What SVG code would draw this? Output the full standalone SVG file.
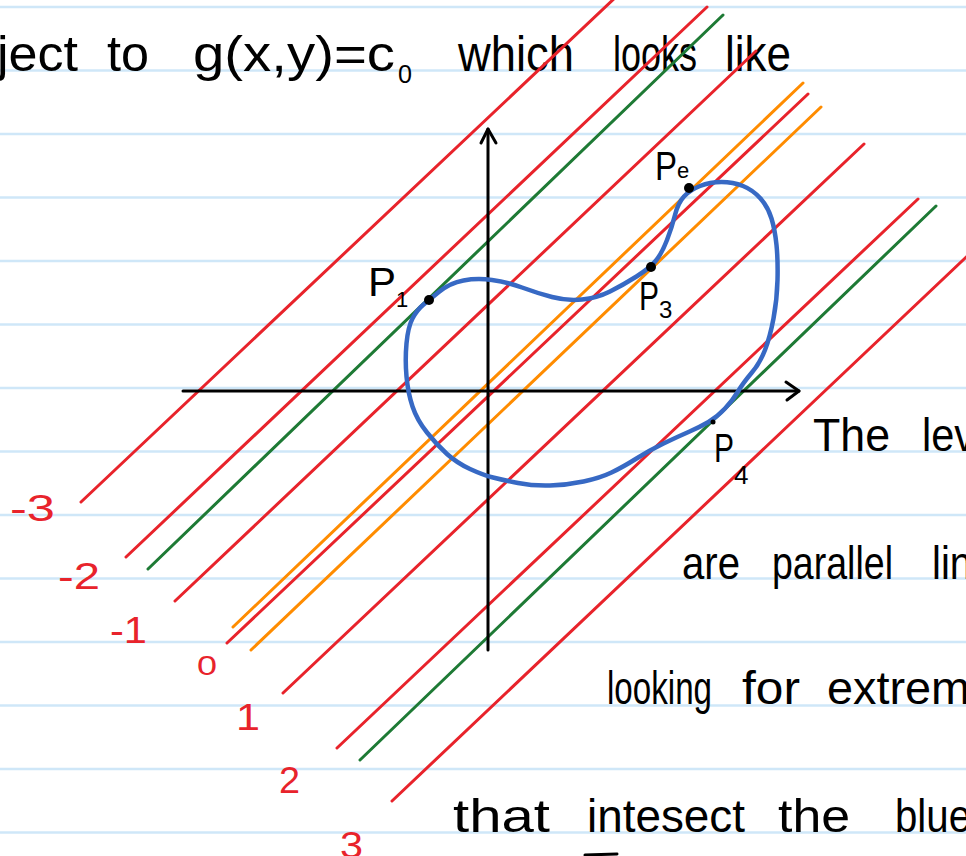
<svg xmlns="http://www.w3.org/2000/svg" width="966" height="856" viewBox="0 0 966 856">
<style>
.rule{stroke:#cfe7f8;stroke-width:2.5}
.red{stroke:#e8232b;stroke-width:3;stroke-linecap:round}
.grn{stroke:#1e7a35;stroke-width:3;stroke-linecap:round}
.org{stroke:#ff8c00;stroke-width:3;stroke-linecap:round}
.axis{stroke:#000;stroke-width:3;fill:none;stroke-linecap:round;stroke-linejoin:round}
.hand{font-family:"Liberation Sans","DejaVu Sans",sans-serif;fill:#000}
.num{font-family:"Liberation Sans","DejaVu Sans",sans-serif;fill:#e8232b;font-size:36px}
.lbl{font-family:"Liberation Sans","DejaVu Sans",sans-serif;fill:#000}
.dot{fill:#000}
</style>
<rect width="966" height="856" fill="#fff"/>
<g id="ruled-lines">
<line class="rule" x1="0" y1="7" x2="966" y2="7"/>
<line class="rule" x1="0" y1="70.5" x2="966" y2="70.5"/>
<line class="rule" x1="0" y1="134" x2="966" y2="134"/>
<line class="rule" x1="0" y1="197.5" x2="966" y2="197.5"/>
<line class="rule" x1="0" y1="261" x2="966" y2="261"/>
<line class="rule" x1="0" y1="324.5" x2="966" y2="324.5"/>
<line class="rule" x1="0" y1="388" x2="966" y2="388"/>
<line class="rule" x1="0" y1="451.5" x2="966" y2="451.5"/>
<line class="rule" x1="0" y1="515" x2="966" y2="515"/>
<line class="rule" x1="0" y1="578.5" x2="966" y2="578.5"/>
<line class="rule" x1="0" y1="642" x2="966" y2="642"/>
<line class="rule" x1="0" y1="705.5" x2="966" y2="705.5"/>
<line class="rule" x1="0" y1="769" x2="966" y2="769"/>
<line class="rule" x1="0" y1="832.5" x2="966" y2="832.5"/>
</g>
<g id="top-text" class="hand">
<text x="-3" y="71" font-size="50" textLength="81" lengthAdjust="spacingAndGlyphs">ject</text>
<text x="107" y="71" font-size="50" textLength="42" lengthAdjust="spacingAndGlyphs">to</text>
<text x="193" y="71" font-size="50" textLength="202" lengthAdjust="spacingAndGlyphs">g(x,y)=c</text>
<text x="398" y="83" font-size="26" textLength="14" lengthAdjust="spacingAndGlyphs">0</text>
<text x="458" y="71" font-size="50" textLength="116" lengthAdjust="spacingAndGlyphs">which</text>
<text x="613" y="71" font-size="50" textLength="84" lengthAdjust="spacingAndGlyphs">looks</text>
<text x="725" y="71" font-size="50" textLength="66" lengthAdjust="spacingAndGlyphs">like</text>
</g>
<g id="level-lines">
<line class="red" x1="81" y1="502" x2="618" y2="-5"/>
<line class="red" x1="126" y1="557" x2="707" y2="7"/>
<line class="grn" x1="148" y1="569" x2="723" y2="15"/>
<line class="red" x1="175" y1="601" x2="756" y2="51"/>
<line class="org" x1="233" y1="627" x2="803" y2="83"/>
<line class="red" x1="227" y1="643" x2="808" y2="94"/>
<line class="org" x1="251" y1="650" x2="821" y2="107"/>
<line class="red" x1="283" y1="693" x2="864" y2="144"/>
<line class="red" x1="337" y1="748" x2="918" y2="199"/>
<line class="grn" x1="360" y1="760" x2="936" y2="206"/>
<line class="red" x1="392" y1="801" x2="980" y2="244"/>
</g>
<g id="level-labels" class="num">
<text x="10" y="521" textLength="45" lengthAdjust="spacingAndGlyphs">-3</text>
<text x="58" y="589" textLength="42" lengthAdjust="spacingAndGlyphs">-2</text>
<text x="110" y="643" textLength="37" lengthAdjust="spacingAndGlyphs">-1</text>
<text x="197" y="675" font-size="28" textLength="20" lengthAdjust="spacingAndGlyphs">0</text>
<text x="236" y="730" textLength="24" lengthAdjust="spacingAndGlyphs">1</text>
<text x="279" y="793" textLength="21" lengthAdjust="spacingAndGlyphs">2</text>
<text x="340" y="858" textLength="23" lengthAdjust="spacingAndGlyphs">3</text>
</g>
<g id="axes">
<line class="axis" x1="183" y1="391" x2="799" y2="391"/>
<polyline class="axis" points="786,382 799,391 787,400"/>
<line class="axis" x1="488" y1="650" x2="488" y2="129"/>
<polyline class="axis" points="481,143 488,129 496,143"/>
</g>
<g id="constraint-curve">
<path d="M423,305 Q429,300 439.5,291.5 Q450,283 463.5,280.5 Q477,278 492,280 Q507,282 522,287.5 Q537,293 552,297 Q567,301 582,299.5 Q597,298 610,291.5 Q623,285 636.5,276.5 Q650,268 656,260.5 Q662,253 667,240 Q672,227 675,215 Q678,203 684,196.5 Q690,190 700,186 Q710,182 721.5,182 Q733,182 743,186 Q753,190 760.5,198.5 Q768,207 771.5,218.5 Q775,230 776.5,245 Q778,260 777.5,280 Q777,300 773.5,318.5 Q770,337 765,350 Q760,363 751.5,373 Q743,383 738,391.5 Q733,400 725,408.5 Q717,417 708.5,422 Q700,427 688.5,432 Q677,437 663.5,443.5 Q650,450 636.5,458.5 Q623,467 611.5,472.5 Q600,478 583.5,481.5 Q567,485 550,485.5 Q533,486 518,483 Q503,480 493,477.5 Q483,475 470,469 Q457,463 447,454 Q437,445 427,432.5 Q417,420 412.5,406.5 Q408,393 406.5,376.5 Q405,360 406.5,343.5 Q408,327 412.5,318.5 Q417,310 423,305 Z" fill="none" stroke="#3769c4" stroke-width="4.5" stroke-linejoin="round"/>
</g>
<g id="point-P1">
<circle class="dot" cx="429" cy="300" r="5"/>
<text class="lbl" x="368" y="296" font-size="40" textLength="28" lengthAdjust="spacingAndGlyphs">P</text>
<text class="lbl" x="396" y="307" font-size="22">1</text>
</g>
<g id="point-Pe">
<circle class="dot" cx="689" cy="188" r="5"/>
<text class="lbl" x="655" y="180" font-size="40" textLength="22" lengthAdjust="spacingAndGlyphs">P</text>
<text class="lbl" x="677" y="178" font-size="22">e</text>
</g>
<g id="point-P3">
<circle class="dot" cx="651" cy="267" r="5"/>
<text class="lbl" x="639" y="310" font-size="40" textLength="20" lengthAdjust="spacingAndGlyphs">P</text>
<text class="lbl" x="659" y="318" font-size="24">3</text>
</g>
<g id="point-P4">
<circle class="dot" cx="713" cy="422" r="2.5"/>
<text class="lbl" x="714" y="462" font-size="40" textLength="20" lengthAdjust="spacingAndGlyphs">P</text>
<text class="lbl" x="734" y="484" font-size="26">4</text>
</g>
<g id="right-text" class="hand" font-size="46">
<text x="813" y="451" textLength="77" lengthAdjust="spacingAndGlyphs">The</text>
<text x="922" y="451" textLength="53" lengthAdjust="spacingAndGlyphs">lev</text>
<text x="682" y="579" textLength="58" lengthAdjust="spacingAndGlyphs">are</text>
<text x="772" y="579" textLength="121" lengthAdjust="spacingAndGlyphs">parallel</text>
<text x="932" y="579" textLength="40" lengthAdjust="spacingAndGlyphs">lin</text>
<text x="607" y="704" textLength="105" lengthAdjust="spacingAndGlyphs">looking</text>
<text x="742" y="704" textLength="58" lengthAdjust="spacingAndGlyphs">for</text>
<text x="827" y="704" textLength="143" lengthAdjust="spacingAndGlyphs">extrem</text>
<text x="453" y="832" textLength="97" lengthAdjust="spacingAndGlyphs">that</text>
<text x="587" y="832" textLength="158" lengthAdjust="spacingAndGlyphs">intesect</text>
<text x="778" y="832" textLength="72" lengthAdjust="spacingAndGlyphs">the</text>
<text x="895" y="832" textLength="76" lengthAdjust="spacingAndGlyphs">blue</text>
</g>
<g id="cut-stroke">
<line x1="585" y1="855" x2="617" y2="854" stroke="#000" stroke-width="3" stroke-linecap="round"/>
</g>
</svg>
